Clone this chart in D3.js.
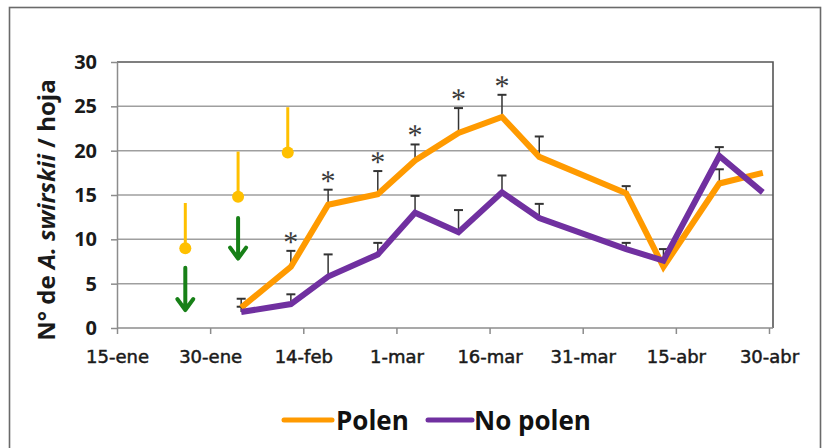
<!DOCTYPE html>
<html>
<head>
<meta charset="utf-8">
<script src="https://cdn.jsdelivr.net/npm/d3@7"></script>
<style>
  html, body { margin: 0; padding: 0; background: #fff; }
  svg { display: block; }
</style>
</head>
<body>
<svg id="chart" width="824" height="448"></svg>
<script>
// Sampling dates (one per survey) and mean mites per leaf for each treatment
const sampleDates = ["2011-02-04", "2011-02-12", "2011-02-18", "2011-02-26", "2011-03-04", "2011-03-11",
                     "2011-03-18", "2011-03-24", "2011-04-07", "2011-04-13", "2011-04-22", "2011-04-29"];
const polen      = [2.3, 6.9, 13.9, 15.1, 18.9, 22.0, 23.8, 19.3, 15.2, 6.9, 16.3, 17.5];
const polenErr   = [1.0, 1.8, 1.7, 2.6, 1.8, 2.8, 2.5, 2.3, 0.8, 0, 1.6, 0];
const noPolen    = [1.8, 2.7, 5.8, 8.3, 13.0, 10.8, 15.3, 12.4, 8.9, 7.6, 19.4, 15.3];
const noPolenErr = [0.6, 1.1, 2.5, 1.3, 1.9, 2.5, 1.9, 1.6, 0.7, 1.3, 1.0, 0];
// Dates with a significant difference between treatments
const signifDates = ["2011-02-12", "2011-02-18", "2011-02-26", "2011-03-04", "2011-03-11", "2011-03-18"];

// Pollen applications (marker value) and mite releases (arrow from/to)
const pollenDates  = ["2011-01-26", "2011-02-03T12:00", "2011-02-11T12:00"];
const pollenLevel  = [9, 14.8, 19.8];
const releaseDates = ["2011-01-26", "2011-02-03T12:00"];
const releaseFrom  = [6.8, 12.4];
const releaseTo    = [1.8, 7.6];

// Axis ticks
const xTickDates  = ["2011-01-15", "2011-01-30", "2011-02-14", "2011-03-01", "2011-03-16", "2011-03-31", "2011-04-15", "2011-04-30"];
const xTickLabels = ["15-ene", "30-ene", "14-feb", "1-mar", "16-mar", "31-mar", "15-abr", "30-abr"];
const yTicks      = [0, 5, 10, 15, 20, 25, 30];

const seriesNames = ["Polen", "No polen"];
const seriesColors = ["#FF9A00", "#7030A0"];

const parse = s => new Date(s + (s.length > 10 ? "Z" : "T00:00Z"));

const svg = d3.select("#chart");
const plot = { left: 117, right: 773, top: 62, bottom: 328 };

const x = d3.scaleUtc()
  .domain([parse(xTickDates[0]), parse(xTickDates[xTickDates.length - 1])])
  .range([plot.left, 769]);
const y = d3.scaleLinear().domain([0, 30]).range([plot.bottom, plot.top]);

// Outer frame
svg.append("rect")
  .attr("x", 9.5).attr("y", 7.5).attr("width", 811).attr("height", 460)
  .attr("fill", "none").attr("stroke", "#6a6a6a").attr("stroke-width", 1.6);

// Horizontal gridlines
svg.append("g")
  .selectAll("line").data(yTicks.filter(v => v > 0 && v < 30)).join("line")
  .attr("x1", plot.left).attr("x2", plot.right)
  .attr("y1", d => y(d)).attr("y2", d => y(d))
  .attr("stroke", "#9f9f9f").attr("stroke-width", 1.5);

// Plot frame: top and right edges
svg.append("path")
  .attr("d", `M${plot.left},${plot.top}H${plot.right}V${plot.bottom}`)
  .attr("fill", "none").attr("stroke", "#555").attr("stroke-width", 1.6);

// Y axis
const yAxis = svg.append("g")
  .attr("transform", `translate(${plot.left},0)`)
  .call(d3.axisLeft(y).tickValues(yTicks).tickSize(6).tickPadding(14).tickSizeOuter(0));
yAxis.select(".domain").attr("stroke", "#8c8c8c").attr("stroke-width", 1.5);
yAxis.selectAll(".tick line").attr("stroke", "#8c8c8c").attr("stroke-width", 1.5);
yAxis.selectAll(".tick text")
  .attr("font-family", "'Open Sans', sans-serif").attr("font-weight", 700)
  .attr("font-size", 20).attr("fill", "#1a1a1a");

// X axis
const xAxis = svg.append("g")
  .attr("transform", `translate(0,${plot.bottom})`)
  .call(d3.axisBottom(x).tickValues(xTickDates.map(parse))
    .tickFormat((d, i) => xTickLabels[i]).tickSize(6).tickPadding(16).tickSizeOuter(0));
xAxis.select(".domain").attr("d", `M${plot.left},0H${plot.right}`)
  .attr("stroke", "#8c8c8c").attr("stroke-width", 1.5);
xAxis.selectAll(".tick line").attr("stroke", "#8c8c8c").attr("stroke-width", 1.5);
xAxis.selectAll(".tick text")
  .attr("font-family", "'DejaVu Sans', sans-serif")
  .attr("font-size", 18).attr("fill", "#1a1a1a")
  .attr("stroke", "#1a1a1a").attr("stroke-width", 0.5);

// Y axis title
const yTitle = svg.append("text")
  .attr("transform", `translate(55,210) rotate(-90)`)
  .attr("text-anchor", "middle")
  .attr("font-family", "'Open Sans', sans-serif").attr("font-weight", 700)
  .attr("font-size", 24).attr("fill", "#1a1a1a");
yTitle.append("tspan").text("N° de ");
yTitle.append("tspan").attr("font-style", "italic").text("A. swirskii");
yTitle.append("tspan").text(" / hoja");

// Pollen application markers
const gold = "#FFC000";
pollenDates.forEach((d, i) => {
  const cx = x(parse(d));
  svg.append("line")
    .attr("x1", cx).attr("x2", cx)
    .attr("y1", y(pollenLevel[i] + 5.1)).attr("y2", y(pollenLevel[i]))
    .attr("stroke", gold).attr("stroke-width", 3);
  svg.append("circle")
    .attr("cx", cx).attr("cy", y(pollenLevel[i])).attr("r", 6)
    .attr("fill", gold);
});

// Mite release arrows
const green = "#178017";
releaseDates.forEach((d, i) => {
  const ax = x(parse(d));
  const y0 = y(releaseFrom[i]), y1 = y(releaseTo[i]);
  svg.append("path")
    .attr("d", `M${ax},${y0}V${y1 - 2}M${ax - 8},${y1 - 13}L${ax},${y1 - 2}L${ax + 8},${y1 - 13}`)
    .attr("fill", "none").attr("stroke", green).attr("stroke-width", 4)
    .attr("stroke-linecap", "round").attr("stroke-linejoin", "round");
});

// Series
const dates = sampleDates.map(parse);
const series = [
  { values: polen, err: polenErr },
  { values: noPolen, err: noPolenErr }
];

const line = d3.line().x(d => x(d[0])).y(d => y(d[1]));

// Error bars (upper half only)
series.forEach(s => {
  const g = svg.append("g").attr("stroke", "#333").attr("stroke-width", 1.5);
  dates.forEach((d, i) => {
    if (!s.err[i]) return;
    const cx = x(d), top = y(s.values[i] + s.err[i]);
    g.append("line").attr("x1", cx).attr("x2", cx).attr("y1", y(s.values[i])).attr("y2", top);
    g.append("line").attr("x1", cx - 4.5).attr("x2", cx + 4.5).attr("y1", top).attr("y2", top).attr("stroke-width", 2);
  });
});

// Lines: "No polen" drawn over "Polen"
series.forEach((s, idx) => {
  svg.append("path")
    .datum(dates.map((d, i) => [d, s.values[i]]))
    .attr("d", line)
    .attr("fill", "none").attr("stroke", seriesColors[idx]).attr("stroke-width", 6)
    .attr("stroke-linejoin", "miter").attr("stroke-linecap", "butt");
});

// Significance asterisks
signifDates.forEach(d => {
  const i = sampleDates.indexOf(d);
  svg.append("text")
    .attr("x", x(parse(d))).attr("y", y(polen[i] + polenErr[i]) + 1)
    .attr("text-anchor", "middle")
    .attr("font-family", "'Liberation Serif', serif").attr("font-size", 30)
    .attr("fill", "#3a3a3a").style("text-rendering", "geometricPrecision").text("*");
});

// Legend
const legend = svg.append("g");
const legendItems = [{ x1: 284, x2: 332, tx: 336 }, { x1: 428, x2: 472, tx: 474 }];
legendItems.forEach((it, i) => {
  legend.append("line")
    .attr("x1", it.x1).attr("x2", it.x2).attr("y1", 420).attr("y2", 420)
    .attr("stroke", seriesColors[i]).attr("stroke-width", 5).attr("stroke-linecap", "round");
  legend.append("text")
    .attr("x", it.tx).attr("y", 430)
    .attr("font-family", "'Open Sans', sans-serif").attr("font-weight", 700)
    .attr("font-size", 26).attr("fill", "#111").text(seriesNames[i]);
});
</script>
</body>
</html>
